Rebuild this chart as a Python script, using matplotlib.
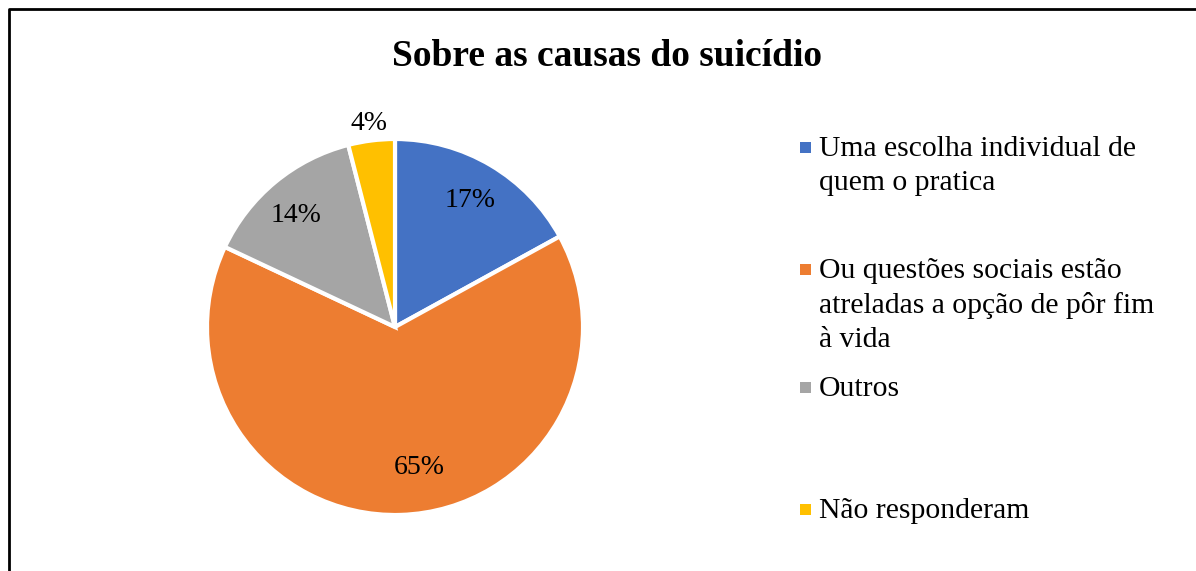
import numpy as np
import matplotlib.pyplot as plt
from matplotlib.patches import Rectangle

plt.rcParams['font.family'] = ['Liberation Serif', 'DejaVu Serif']

labels = ['Uma escolha individual de\nquem o pratica',
          'Ou questões sociais estão\natreladas a opção de pôr fim\nà vida',
          'Outros',
          'Não responderam']
values = [17, 65, 14, 4]
colors = ['#4472C4', '#ED7D31', '#A5A5A5', '#FFC000']
# label placement (fraction of radius, angle shift in degrees)
label_r = [0.78, 0.76, 0.79, 1.09]
label_shift = [0, 8, 2, 0]

W, H = 1196, 571
fig = plt.figure(figsize=(W / 100, H / 100), dpi=100)
ax = fig.add_axes([0, 0, 1, 1])

cx, cy, r = 395, H - 327, 188
wedges, texts = ax.pie(values, colors=colors, startangle=90, counterclock=False,
                       center=(cx, cy), radius=r, frame=True,
                       wedgeprops=dict(edgecolor='white', linewidth=3))
ax.set_xlim(0, W)
ax.set_ylim(0, H)
ax.set_aspect('equal')
ax.axis('off')

for w, v, lr, sh in zip(wedges, values, label_r, label_shift):
    ang = np.deg2rad((w.theta1 + w.theta2) / 2 + sh)
    ax.text(cx + lr * r * np.cos(ang), cy + lr * r * np.sin(ang), f'{v}%',
            ha='center', va='center', fontsize=20)

ax.text(607, H - 56, 'Sobre as causas do suicídio', ha='center', va='center',
        fontsize=27, fontweight='bold')

# legend, Excel-style spacing
leg_y = [148, 270, 388, 510]
for lab, c, y in zip(labels, colors, leg_y):
    ax.add_patch(Rectangle((800, H - y - 5), 11, 11, facecolor=c, edgecolor='none'))
    ax.text(819, H - y + 12, lab, ha='left', va='top', fontsize=21.3,
            linespacing=1.38)

# outer frame (left and top edges visible)
ax.plot([9, 9, W], [0, H - 9, H - 9], color='black', linewidth=2)

fig.savefig('out.png', dpi=100)
